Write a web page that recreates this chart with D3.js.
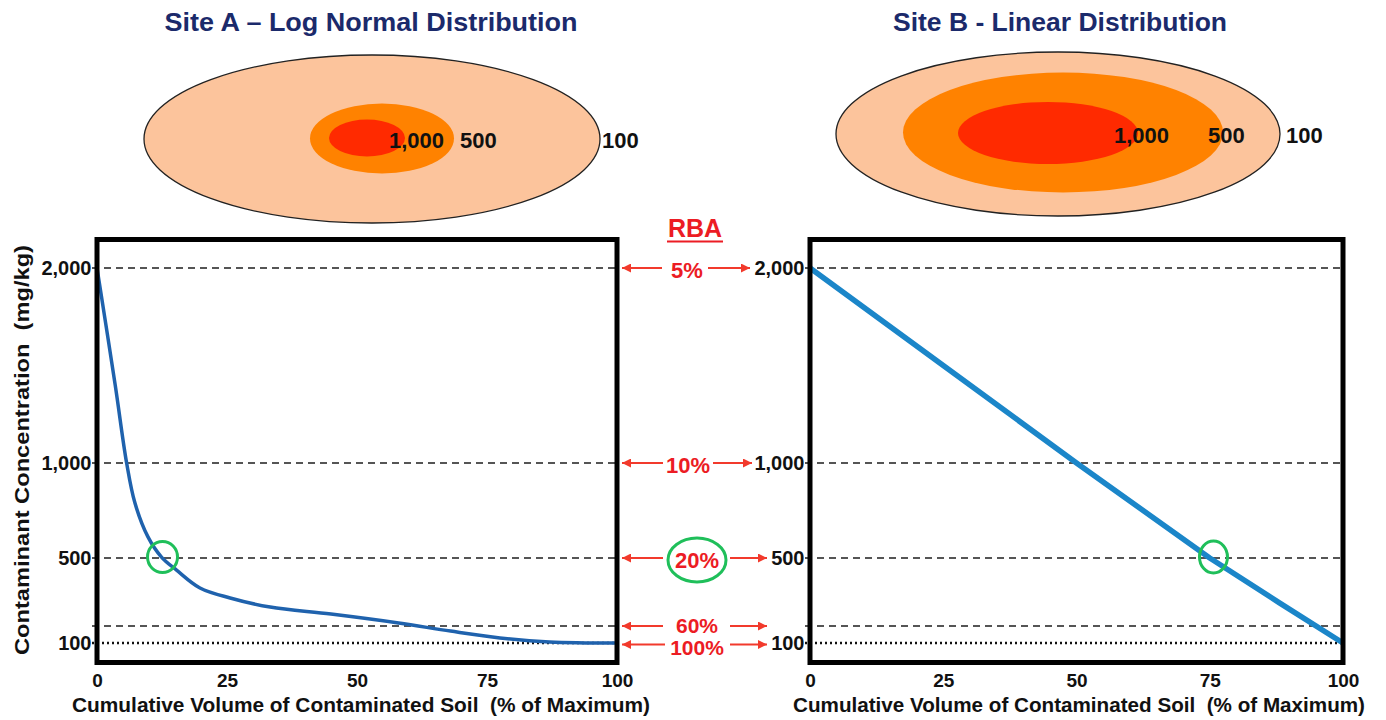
<!DOCTYPE html>
<html><head><meta charset="utf-8">
<script src="https://cdn.jsdelivr.net/npm/d3@7"></script>
<style>
body{margin:0;background:#fff;}
svg{display:block;font-family:"Liberation Sans",Arial,Helvetica,sans-serif;font-weight:bold;}
.pre{white-space:pre;}
</style>
</head><body><svg id="c" width="1386" height="720"></svg>
<script>
// ---------------- data ----------------
const siteTitles = ["Site A \u2013 Log Normal Distribution", "Site B - Linear Distribution"];
const contourLabels = ["100", "500", "1,000"];
const yTickValues = [100, 500, 1000, 2000];
const xTickValues = [0, 25, 50, 75, 100];
const siteAVolume = [0, 3.5, 5.7, 7.3, 9.8, 12.4, 15.3, 19.8, 25.6, 33.3, 45, 58, 68, 77.5, 87, 100];
const siteAConc   = [2000, 1400, 1000, 789, 611, 505, 443, 359, 312, 269, 236, 194, 156, 124, 105, 100];
const siteBVolume = [0, 25, 50, 75, 88, 100];
const siteBConc   = [2000, 1500, 1000, 500, 290, 100];
const rbaLabels = ["5%", "10%", "20%", "60%", "100%"];
const rbaConc   = [2000, 1000, 500, 180, 100];
const highlightVolume = [12.6, 75.7];
const highlightConc = 500;
const xAxisTitle = "Cumulative Volume of Contaminated Soil  (% of Maximum)";
const yAxisTitle = "Contaminant Concentration  (mg/kg)";

// ---------------- layout ----------------
const svg = d3.select("#c");
const FRAME_TOP = 239.5, FRAME_BOTTOM = 662.5;
const y = d3.scaleLinear().domain(yTickValues).range([643, 558, 463, 268]);
const RED = "#ec1c24", ARROW = "#f23a2c", GREEN = "#1fbf5a";
const panels = [
  {x0: 97, x1: 617, vol: siteAVolume, conc: siteAConc, color: "#1f62ad", width: 3.5, curve: d3.curveCatmullRom.alpha(0.5),
   circle: {rx: 15, ry: 15.5}, titleX: 371, titleW: 413, xTitleX: 361, xTitleW: 578,
   ell: {outer: [372, 139, 228, 84], mid: [382, 138.5, 72, 35], inner: [367, 138, 38, 18.5]},
   labX: {"1,000": 389, "500": 460, "100": 602}, labY: 140},
  {x0: 810, x1: 1343, vol: siteBVolume, conc: siteBConc, color: "#1b86c9", width: 5.5, curve: d3.curveLinear,
   circle: {rx: 14, ry: 16}, titleX: 1060, titleW: 334, xTitleX: 1079, xTitleW: 572,
   ell: {outer: [1058, 134, 222, 82], mid: [1063, 132.5, 160, 60], inner: [1048, 133, 90, 31]},
   labX: {"1,000": 1114, "500": 1208, "100": 1286}, labY: 135}
];

// arrow marker
const defs = svg.append("defs");
defs.append("marker").attr("id", "ah").attr("viewBox", "0 0 10 10")
  .attr("refX", 10).attr("refY", 5).attr("markerUnits", "userSpaceOnUse")
  .attr("markerWidth", 10).attr("markerHeight", 9).attr("orient", "auto")
  .append("path").attr("d", "M0,0 L10,5 L0,10 z").attr("fill", ARROW);

panels.forEach((p, i) => {
  const x = d3.scaleLinear().domain([0, 100]).range([p.x0, p.x1]);
  const g = svg.append("g");

  // title
  g.append("text").attr("x", p.titleX).attr("y", 31).attr("text-anchor", "middle")
    .attr("font-size", 25).attr("fill", "#1b2a6b")
    .attr("textLength", p.titleW).attr("lengthAdjust", "spacingAndGlyphs")
    .text(siteTitles[i]);

  // contour ellipses
  const e = p.ell;
  [[e.outer, "#fcc49c", "#222"], [e.mid, "#ff8200", "none"], [e.inner, "#ff2a00", "none"]].forEach(([c, fill, st]) => {
    g.append("ellipse").attr("cx", c[0]).attr("cy", c[1]).attr("rx", c[2]).attr("ry", c[3])
      .attr("fill", fill).attr("stroke", st).attr("stroke-width", 1.3);
  });
  contourLabels.forEach(l => {
    g.append("text").attr("x", p.labX[l]).attr("y", p.labY).attr("dominant-baseline", "central")
      .attr("font-size", 22).attr("fill", "#111").text(l);
  });

  // gridlines
  rbaConc.forEach(v => {
    const dotted = v === 100;
    g.append("line").attr("x1", p.x0 - 5).attr("x2", p.x1).attr("y1", y(v)).attr("y2", y(v))
      .attr("stroke", dotted ? "#111" : "#555")
      .attr("stroke-width", dotted ? 2.5 : 1.8)
      .attr("stroke-dasharray", dotted ? "2,3" : "7,5");
  });

  // curve
  const line = d3.line().x(d => x(d[0])).y(d => y(d[1])).curve(p.curve);
  g.append("path").datum(p.vol.map((v, k) => [v, p.conc[k]]))
    .attr("d", line).attr("fill", "none").attr("stroke", p.color)
    .attr("stroke-width", p.width).attr("stroke-linejoin", "round");

  // highlight circle
  g.append("ellipse").attr("cx", x(highlightVolume[i])).attr("cy", y(highlightConc) - 1)
    .attr("rx", p.circle.rx).attr("ry", p.circle.ry)
    .attr("fill", "none").attr("stroke", GREEN).attr("stroke-width", 3);

  // frame
  g.append("rect").attr("x", p.x0).attr("y", FRAME_TOP).attr("width", p.x1 - p.x0)
    .attr("height", FRAME_BOTTOM - FRAME_TOP).attr("fill", "none")
    .attr("stroke", "#000").attr("stroke-width", 5);

  // axes
  const ya = g.append("g").attr("transform", `translate(${p.x0 - 2.5},0)`)
    .call(d3.axisLeft(y).tickValues(yTickValues).tickSize(0).tickPadding(3).tickFormat(d3.format(",")));
  ya.select(".domain").remove();
  ya.attr("font-family", null).attr("font-size", 20);
  ya.selectAll("text").attr("fill", "#111");

  const xa = g.append("g").attr("transform", `translate(0,${FRAME_BOTTOM + 2.5})`)
    .call(d3.axisBottom(x).tickValues(xTickValues).tickSize(0).tickPadding(9));
  xa.select(".domain").remove();
  xa.attr("font-family", null).attr("font-size", 19);
  xa.selectAll("text").attr("fill", "#111");

  g.append("text").attr("class", "pre").attr("x", p.xTitleX).attr("y", 712).attr("text-anchor", "middle")
    .attr("font-size", 20).attr("fill", "#111")
    .attr("textLength", p.xTitleW).attr("lengthAdjust", "spacingAndGlyphs")
    .text(xAxisTitle);
});

// y-axis title
svg.append("text").attr("class", "pre").attr("transform", "translate(29,450) rotate(-90)").attr("text-anchor", "middle")
  .attr("font-size", 21).attr("fill", "#111")
  .attr("textLength", 410).attr("lengthAdjust", "spacingAndGlyphs")
  .text(yAxisTitle);

// ---------------- RBA column ----------------
const mid = svg.append("g");
mid.append("text").attr("x", 695).attr("y", 237).attr("text-anchor", "middle")
  .attr("font-size", 25).attr("fill", RED).text("RBA");
mid.append("line").attr("x1", 667).attr("x2", 723).attr("y1", 241.5).attr("y2", 241.5)
  .attr("stroke", RED).attr("stroke-width", 2);

const rowLayout = [
  {tx: 687, l0: 662, r0: 708, r1: 750, dy: 2},
  {tx: 688, l0: 663, r0: 713, r1: 752, dy: 2},
  {tx: 697, l0: 663, r0: 730, r1: 767, dy: 2},
  {tx: 697, l0: 663, r0: 730, r1: 767, dy: -1},
  {tx: 697, l0: 665, r0: 730, r1: 767, dy: 3}
];
rbaLabels.forEach((lab, k) => {
  const r = rowLayout[k], yy = y(rbaConc[k]) + (rbaConc[k] === 100 ? 1.5 : 0);
  mid.append("line").attr("x1", r.l0).attr("x2", 622).attr("y1", yy).attr("y2", yy)
    .attr("stroke", ARROW).attr("stroke-width", 1.8).attr("marker-end", "url(#ah)");
  mid.append("line").attr("x1", r.r0).attr("x2", r.r1).attr("y1", yy).attr("y2", yy)
    .attr("stroke", ARROW).attr("stroke-width", 1.8).attr("marker-end", "url(#ah)");
  mid.append("text").attr("x", r.tx).attr("y", yy + r.dy).attr("dominant-baseline", "central")
    .attr("text-anchor", "middle").attr("font-size", k >= 3 ? 21 : 22).attr("fill", RED).text(lab);
});
// green ring around the highlighted RBA
mid.append("ellipse").attr("cx", 697).attr("cy", y(highlightConc) + 2).attr("rx", 29).attr("ry", 22)
  .attr("fill", "none").attr("stroke", GREEN).attr("stroke-width", 3);
</script>
</body></html>
